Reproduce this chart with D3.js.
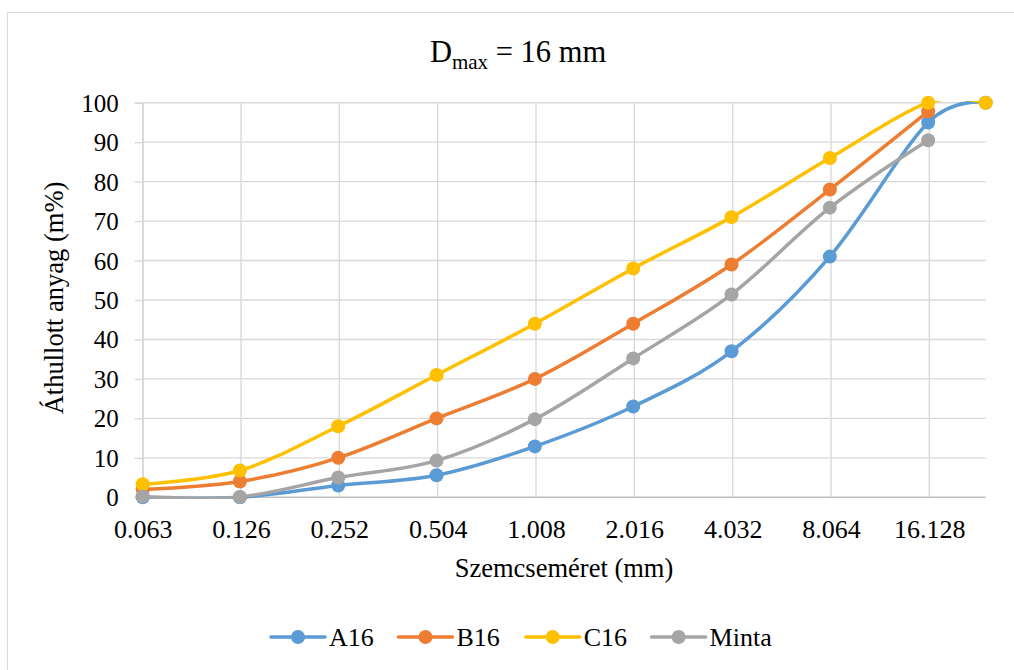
<!DOCTYPE html>
<html>
<head>
<meta charset="utf-8">
<script src="https://cdn.jsdelivr.net/npm/d3@7"></script>
<style>
  html, body { margin: 0; padding: 0; background: #ffffff; }
  svg { display: block; }
  text { font-family: "Liberation Serif", "Times New Roman", serif; fill: #000; }
</style>
</head>
<body>
<svg id="chart" width="1014" height="670"></svg>
<script>
// ---- data ----
const sieveSizes = [0.063, 0.125, 0.25, 0.5, 1, 2, 4, 8, 16, 24];
const seriesNames = ["A16", "B16", "C16", "Minta"];
const a16 = [0, 0, 3, 5.6, 12.9, 23, 37, 61, 95, 100];
const b16 = [2, 4, 10, 20, 30, 44, 59, 78, 97.8];
const c16 = [3.3, 6.8, 18, 31, 44, 58, 71, 86, 100, 100];
const minta = [0.2, 0.1, 5, 9.3, 19.8, 35.2, 51.4, 73.4, 90.5];
const xTickLabels = ["0.063", "0.126", "0.252", "0.504", "1.008", "2.016", "4.032", "8.064", "16.128"];
const yTicks = [0, 10, 20, 30, 40, 50, 60, 70, 80, 90, 100];
const colors = ["#5B9BD5", "#ED7D31", "#FFC000", "#A5A5A5"];

const seriesValues = [a16, b16, c16, minta];

// ---- layout ----
const svg = d3.select("#chart");
const pL = 142.7, pR = 985.7, pT = 102.7, pB = 497.3;
const serif = "'Liberation Serif', 'Times New Roman', serif";

svg.append("rect")
  .attr("x", 7.5).attr("y", 12.5)
  .attr("width", 1030).attr("height", 700)
  .attr("fill", "#fff").attr("stroke", "#d9d9d9").attr("stroke-width", 1);

const x = d3.scaleLog().base(2)
  .domain([+xTickLabels[0], sieveSizes[sieveSizes.length - 1]])
  .range([pL, pR]);
const y = d3.scaleLinear().domain([0, 100]).range([pB, pT]);

// gridlines
const grid = svg.append("g");
grid.selectAll("line.h").data(yTicks.filter(d => d > 0)).join("line")
  .attr("x1", pL).attr("x2", pR)
  .attr("y1", d => y(d)).attr("y2", d => y(d))
  .attr("stroke", "#d9d9d9").attr("stroke-width", 1.4);
grid.selectAll("line.v").data(xTickLabels).join("line")
  .attr("x1", d => x(+d)).attr("x2", d => x(+d))
  .attr("y1", pT).attr("y2", pB)
  .attr("stroke", "#d9d9d9").attr("stroke-width", 1.4);

// y axis ticks + labels
const yAxis = d3.axisLeft(y).tickValues(yTicks).tickSize(8).tickPadding(16);
const gy = svg.append("g").attr("transform", `translate(${pL},0)`).call(yAxis);
gy.select(".domain").attr("stroke", "#d9d9d9").attr("stroke-width", 1.4);
gy.selectAll(".tick line").attr("stroke", "#d9d9d9").attr("stroke-width", 1.4);
gy.selectAll(".tick text")
  .attr("font-family", serif)
  .attr("font-size", 25).attr("fill", "#000")
  .attr("x", -24).attr("dy", "0.34em");

// x axis labels
const xAxis = d3.axisBottom(x).tickValues(xTickLabels.map(Number))
  .tickFormat((d, i) => xTickLabels[i]).tickSize(0).tickPadding(22);
const gx = svg.append("g").attr("transform", `translate(0,${pB})`).call(xAxis);
gx.select(".domain").remove();
gx.selectAll(".tick text")
  .attr("font-family", serif)
  .attr("font-size", 26).attr("fill", "#000");

svg.append("line")
  .attr("x1", pL).attr("x2", pR).attr("y1", pB).attr("y2", pB)
  .attr("stroke", "#bfbfbf").attr("stroke-width", 1.6);

// clip
svg.append("clipPath").attr("id", "plotClip").append("rect")
  .attr("x", pL).attr("y", pT - 1.6)
  .attr("width", pR - pL + 1).attr("height", pB - pT + 3.2);

const line = d3.line()
  .x(d => x(d[0])).y(d => y(d[1]))
  .curve(d3.curveCardinal.tension(0));

seriesValues.forEach((vals, i) => {
  const pts = vals.map((v, k) => [sieveSizes[k], v]);
  const g = svg.append("g");
  g.append("path").datum(pts)
    .attr("d", line).attr("fill", "none")
    .attr("stroke", colors[i]).attr("stroke-width", 3.5)
    .attr("stroke-linecap", "round")
    .attr("clip-path", "url(#plotClip)");
  g.selectAll("circle").data(pts).join("circle")
    .attr("cx", d => x(d[0])).attr("cy", d => y(d[1]))
    .attr("r", 7).attr("fill", colors[i]);
});

// title
const title = svg.append("text")
  .attr("x", 518).attr("y", 62)
  .attr("text-anchor", "middle")
  .attr("font-family", serif)
  .attr("font-size", 30.5);
title.append("tspan").text("D");
title.append("tspan").attr("font-size", 21).attr("dy", 7).text("max");
title.append("tspan").attr("dy", -7).text(" = 16 mm");

// axis titles
svg.append("text")
  .attr("x", 564).attr("y", 577)
  .attr("text-anchor", "middle").attr("font-size", 26.5)
  .attr("font-family", serif)
  .text("Szemcseméret (mm)");
svg.append("text")
  .attr("transform", "translate(63,298) rotate(-90)")
  .attr("text-anchor", "middle").attr("font-size", 26.5)
  .attr("font-family", serif)
  .text("Áthullott anyag (m%)");

// legend
const legendX = [271, 398.5, 525.7, 651.6];
const legend = svg.append("g");
seriesNames.forEach((name, i) => {
  const lg = legend.append("g").attr("transform", `translate(${legendX[i]},637)`);
  lg.append("line").attr("x1", 0).attr("x2", 54).attr("y1", 0).attr("y2", 0)
    .attr("stroke", colors[i]).attr("stroke-width", 3.5).attr("stroke-linecap", "round");
  lg.append("circle").attr("cx", 27).attr("cy", 0).attr("r", 7).attr("fill", colors[i]);
  lg.append("text").attr("x", 58).attr("y", 8.5).attr("font-size", 26)
    .attr("font-family", serif).text(name);
});
</script>
</body>
</html>
